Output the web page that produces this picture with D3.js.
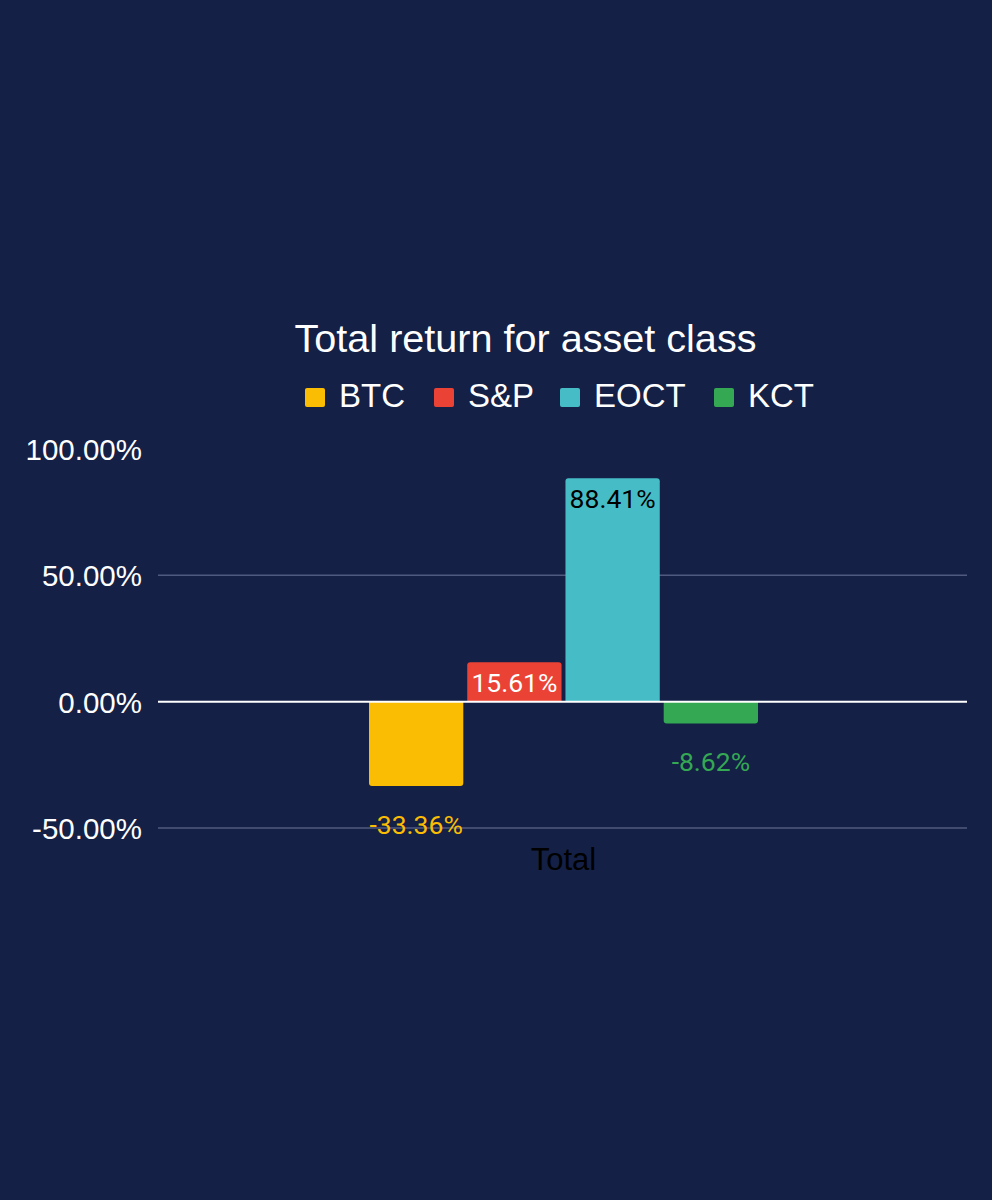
<!DOCTYPE html>
<html>
<head>
<meta charset="utf-8">
<script src="https://cdn.jsdelivr.net/npm/d3@7"></script>
<style>
  html, body { margin: 0; padding: 0; background: #142046; }
  svg { display: block; }
</style>
</head>
<body>
<svg id="chart" width="992" height="1200"></svg>
<script>
const title = "Total return for asset class";
const category = "Total";
const series = ["BTC", "S&P", "EOCT", "KCT"];
const values = [-33.36, 15.61, 88.41, -8.62];
const colors = ["#fbbc04", "#ea4335", "#46bdc6", "#34a853"];
const insideLabelColors = ["#ffffff", "#ffffff", "#000000", "#ffffff"];
const yTicks = [-50, 0, 50, 100];

const pct = v => d3.format(".2f")(v).replace("\u2212", "-") + "%";

const svg = d3.select("#chart");
svg.append("rect").attr("width", 992).attr("height", 1200).attr("fill", "#142046");

const y = d3.scaleLinear().domain([-50, 100]).range([828, 449]);
const plotLeft = 158, plotRight = 967;
const x = d3.scaleBand().domain(series).range([369, 758]).paddingInner(0.04).paddingOuter(0);

// title
svg.append("text").attr("x", 525.5).attr("y", 352).attr("text-anchor", "middle")
  .attr("font-family", "Liberation Sans, Arial, sans-serif").attr("font-size", 39.6)
  .attr("fill", "#ffffff").text(title);

// legend
const legendX = [305, 434, 560, 714];
const legend = svg.append("g");
series.forEach((s, i) => {
  legend.append("rect").attr("x", legendX[i]).attr("y", 388).attr("width", 20).attr("height", 19)
    .attr("rx", 2).attr("fill", colors[i]);
  legend.append("text").attr("x", legendX[i] + 34).attr("y", 407)
    .attr("font-family", "Liberation Sans, Arial, sans-serif").attr("font-size", 33)
    .attr("fill", "#ffffff").text(s);
});

// y axis
const yAxis = d3.axisLeft(y).tickValues(yTicks).tickSize(0).tickPadding(0).tickFormat(pct);
const ga = svg.append("g").attr("transform", "translate(142,0)").call(yAxis);
ga.select(".domain").remove();
ga.selectAll("text").attr("font-family", "Liberation Sans, Arial, sans-serif")
  .attr("font-size", 29.5).attr("fill", "#ffffff").attr("dy", "0.36em");

// gridlines (no line at top)
svg.append("g").selectAll("line").data(yTicks.filter(t => t !== 0 && t !== 100)).join("line")
  .attr("x1", plotLeft).attr("x2", plotRight)
  .attr("y1", d => y(d)).attr("y2", d => y(d))
  .attr("stroke", "#4f5a7e").attr("stroke-width", 1.5);

// bars with rounded outer corners
function barPath(x0, w, yBase, yEnd, r) {
  const up = yEnd < yBase;
  const h = Math.abs(yEnd - yBase);
  r = Math.min(r, h / 2, w / 2);
  if (up) {
    return `M${x0},${yBase} L${x0},${yEnd + r} Q${x0},${yEnd} ${x0 + r},${yEnd} L${x0 + w - r},${yEnd} Q${x0 + w},${yEnd} ${x0 + w},${yEnd + r} L${x0 + w},${yBase} Z`;
  } else {
    return `M${x0},${yBase} L${x0},${yEnd - r} Q${x0},${yEnd} ${x0 + r},${yEnd} L${x0 + w - r},${yEnd} Q${x0 + w},${yEnd} ${x0 + w},${yEnd - r} L${x0 + w},${yBase} Z`;
  }
}
const data = series.map((s, i) => ({ s, v: values[i], c: colors[i], lc: insideLabelColors[i] }));
svg.append("g").selectAll("path").data(data).join("path")
  .attr("d", d => barPath(x(d.s), x.bandwidth(), y(0), y(d.v), 3))
  .attr("fill", d => d.c);

// zero line
svg.append("line").attr("x1", plotLeft).attr("x2", plotRight)
  .attr("y1", y(0)).attr("y2", y(0)).attr("stroke", "#ffffff").attr("stroke-width", 2);

// data labels
svg.append("g").selectAll("text").data(data).join("text")
  .attr("x", d => x(d.s) + x.bandwidth() / 2)
  .attr("y", d => d.v >= 0 ? y(d.v) + 30 : y(d.v) + 48)
  .attr("text-anchor", "middle")
  .attr("font-family", "Roboto, sans-serif").attr("font-size", 26.5)
  .attr("fill", d => d.v >= 0 ? d.lc : d.c)
  .text(d => pct(d.v));

// category label
svg.append("text").attr("x", x.range()[0] + (x.range()[1] - x.range()[0]) / 2).attr("y", 870)
  .attr("text-anchor", "middle")
  .attr("font-family", "Liberation Sans, Arial, sans-serif").attr("font-size", 31)
  .attr("fill", "#000000").text(category);
</script>
</body>
</html>
